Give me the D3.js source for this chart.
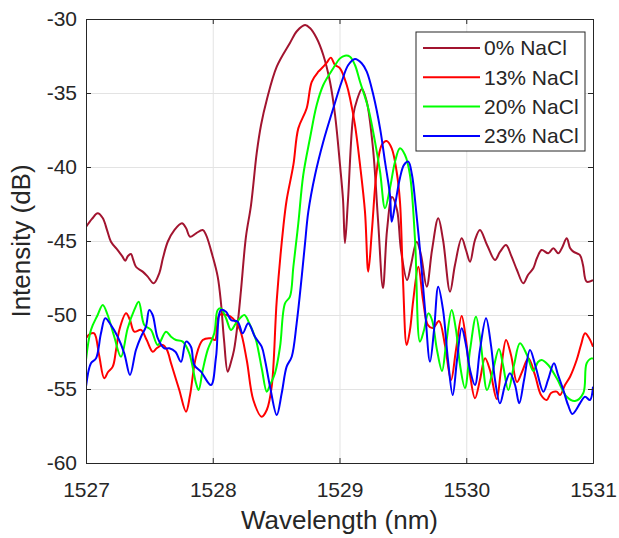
<!DOCTYPE html>
<html lang="en">
<head>
<meta charset="UTF-8">
<title>Intensity vs Wavelength</title>
<script src="https://d3js.org/d3.v7.min.js"></script>
<style>
html,body{margin:0;padding:0;background:#fff}
svg{display:block;font-family:"Liberation Sans",Arial,Helvetica,sans-serif}
.axis text{fill:#262626;font-size:21px}
.axis path,.axis line{stroke:#262626}
.grid line{stroke:#e3e3e3}
.grid path{display:none}
.label{fill:#262626;font-size:26px}
.legend text{fill:#262626;font-size:21px}
</style>
</head>
<body>
<div id="chart"></div>
<script>
// wavelength (nm) / intensity (dB)
var wl0 = [1527.000,1527.047,1527.092,1527.132,1527.166,1527.197,1527.250,1527.284,1527.310,1527.331,1527.355,1527.371,1527.394,1527.447,1527.487,1527.534,1527.578,1527.607,1527.645,1527.697,1527.757,1527.789,1527.821,1527.868,1527.921,1527.947,1528.000,1528.039,1528.065,1528.089,1528.118,1528.144,1528.168,1528.197,1528.223,1528.262,1528.302,1528.347,1528.381,1528.426,1528.505,1528.609,1528.665,1528.728,1528.767,1528.820,1528.872,1528.925,1528.965,1529.004,1529.028,1529.043,1529.067,1529.109,1529.138,1529.177,1529.215,1529.264,1529.304,1529.343,1529.375,1529.414,1529.454,1529.485,1529.533,1529.564,1529.609,1529.643,1529.688,1529.730,1529.779,1529.817,1529.872,1529.911,1529.964,1529.998,1530.030,1530.069,1530.108,1530.164,1530.227,1530.266,1530.314,1530.353,1530.400,1530.450,1530.487,1530.529,1530.558,1530.595,1530.647,1530.687,1530.726,1530.755,1530.793,1530.819,1530.845,1530.897,1530.921,1530.950,1531.000];
var db0 = [-44.05,-43.51,-43.13,-43.45,-44.26,-45.05,-45.61,-46.01,-46.33,-46.01,-45.88,-46.22,-46.74,-47.07,-47.41,-47.86,-47.18,-46.15,-45.05,-44.26,-43.80,-44.12,-44.71,-44.48,-44.26,-44.59,-46.06,-47.41,-49.19,-51.69,-53.83,-53.18,-52.36,-50.54,-48.31,-44.71,-42.57,-39.05,-37.16,-35.47,-33.22,-31.62,-30.81,-30.41,-30.61,-31.30,-32.43,-34.24,-36.49,-39.86,-42.23,-45.14,-42.23,-36.49,-35.47,-34.73,-35.59,-38.72,-43.58,-48.18,-44.26,-42.03,-42.91,-45.61,-47.64,-46.62,-45.05,-45.95,-48.09,-45.61,-43.47,-44.93,-48.43,-46.62,-44.82,-45.61,-46.40,-44.93,-44.26,-45.27,-46.28,-45.74,-45.27,-45.95,-46.96,-47.86,-47.30,-46.84,-46.15,-45.61,-45.83,-45.49,-45.83,-45.47,-44.82,-45.47,-45.72,-45.95,-46.62,-47.75,-47.64];

var wl13 = [1527.000,1527.032,1527.065,1527.103,1527.144,1527.174,1527.211,1527.237,1527.263,1527.316,1527.347,1527.381,1527.434,1527.479,1527.526,1527.560,1527.605,1527.639,1527.671,1527.736,1527.789,1527.821,1527.868,1527.921,1527.986,1528.018,1528.052,1528.110,1528.157,1528.215,1528.268,1528.320,1528.386,1528.426,1528.465,1528.505,1528.557,1528.583,1528.636,1528.675,1528.741,1528.781,1528.833,1528.872,1528.904,1528.931,1528.965,1529.004,1529.057,1529.083,1529.122,1529.162,1529.201,1529.227,1529.256,1529.293,1529.333,1529.372,1529.412,1529.451,1529.477,1529.501,1529.530,1529.556,1529.582,1529.622,1529.659,1529.698,1529.738,1529.785,1529.832,1529.880,1529.919,1529.964,1529.998,1530.030,1530.069,1530.108,1530.148,1530.187,1530.240,1530.274,1530.314,1530.353,1530.400,1530.440,1530.490,1530.542,1530.590,1530.635,1530.669,1530.714,1530.740,1530.779,1530.819,1530.871,1530.905,1530.937,1530.969,1531.000];
var db13 = [-51.57,-51.28,-51.24,-52.70,-54.28,-53.85,-53.49,-52.36,-51.01,-49.89,-50.34,-51.13,-51.01,-51.69,-52.48,-52.23,-52.03,-52.36,-53.26,-55.07,-56.53,-55.41,-52.82,-51.69,-51.57,-51.69,-50.00,-50.00,-50.22,-51.01,-53.04,-55.74,-56.87,-56.42,-54.84,-48.99,-44.03,-42.23,-39.86,-37.39,-36.03,-34.24,-33.56,-33.22,-32.89,-32.61,-33.11,-33.33,-34.46,-35.36,-37.16,-39.86,-43.02,-47.07,-44.26,-40.32,-38.51,-38.24,-38.74,-40.32,-42.34,-47.64,-52.03,-51.01,-48.99,-46.74,-48.99,-50.68,-50.88,-50.41,-52.03,-54.39,-52.36,-50.07,-51.69,-54.05,-55.63,-54.39,-52.93,-53.72,-55.68,-53.72,-51.69,-52.70,-54.53,-53.85,-52.93,-54.05,-55.41,-55.74,-55.27,-55.18,-55.41,-54.73,-54.17,-53.04,-52.03,-51.24,-51.55,-52.14];

var wl20 = [1527.000,1527.039,1527.092,1527.132,1527.171,1527.223,1527.276,1527.329,1527.381,1527.416,1527.460,1527.513,1527.566,1527.631,1527.671,1527.710,1527.763,1527.815,1527.868,1527.889,1527.921,1527.960,1528.012,1528.039,1528.065,1528.105,1528.144,1528.183,1528.249,1528.288,1528.341,1528.359,1528.389,1528.426,1528.452,1528.491,1528.531,1528.570,1528.609,1528.636,1528.675,1528.714,1528.767,1528.820,1528.872,1528.951,1529.004,1529.043,1529.083,1529.122,1529.162,1529.227,1529.280,1529.320,1529.359,1529.398,1529.438,1529.477,1529.517,1529.556,1529.596,1529.635,1529.667,1529.701,1529.730,1529.769,1529.809,1529.840,1529.885,1529.919,1529.951,1529.990,1530.030,1530.077,1530.116,1530.164,1530.211,1530.258,1530.290,1530.332,1530.377,1530.424,1530.479,1530.529,1530.566,1530.595,1530.647,1530.714,1530.793,1530.858,1530.923,1530.950,1530.990,1531.000];
var db20 = [-53.04,-51.01,-50.00,-49.32,-50.00,-51.47,-52.82,-50.90,-49.66,-49.10,-50.68,-51.01,-52.03,-51.13,-51.47,-51.69,-51.80,-52.59,-54.61,-55.07,-53.72,-52.36,-51.24,-49.66,-49.55,-50.22,-51.01,-50.56,-50.00,-50.56,-51.69,-52.36,-53.72,-55.18,-54.73,-53.94,-52.14,-49.21,-48.76,-46.74,-43.80,-40.54,-38.06,-35.81,-34.46,-33.33,-32.66,-32.48,-32.55,-33.11,-34.24,-36.03,-38.29,-40.32,-42.79,-41.44,-39.64,-38.74,-39.19,-40.54,-44.93,-51.80,-51.01,-49.89,-50.34,-52.36,-53.78,-52.03,-49.66,-51.01,-53.38,-54.93,-52.36,-50.11,-52.03,-55.07,-53.72,-52.30,-53.38,-55.07,-53.38,-51.91,-52.70,-53.78,-53.18,-53.04,-53.38,-54.28,-55.52,-55.81,-55.29,-53.26,-52.93,-52.97];

var wl23 = [1527.000,1527.039,1527.079,1527.118,1527.152,1527.197,1527.250,1527.302,1527.347,1527.394,1527.434,1527.473,1527.499,1527.526,1527.566,1527.618,1527.657,1527.705,1527.750,1527.789,1527.828,1527.854,1527.907,1527.986,1528.026,1528.065,1528.105,1528.144,1528.197,1528.236,1528.280,1528.333,1528.386,1528.412,1528.452,1528.505,1528.544,1528.583,1528.623,1528.662,1528.702,1528.728,1528.754,1528.807,1528.872,1528.951,1529.017,1529.069,1529.122,1529.175,1529.215,1529.267,1529.320,1529.359,1529.398,1529.412,1529.438,1529.477,1529.509,1529.543,1529.572,1529.596,1529.635,1529.675,1529.714,1529.746,1529.779,1529.817,1529.856,1529.893,1529.927,1529.964,1529.998,1530.030,1530.069,1530.108,1530.156,1530.195,1530.227,1530.266,1530.306,1530.345,1530.385,1530.418,1530.456,1530.503,1530.550,1530.608,1530.645,1530.692,1530.724,1530.766,1530.803,1530.837,1530.866,1530.897,1530.937,1530.976,1531.000];
var db23 = [-54.84,-53.26,-52.93,-51.24,-50.22,-50.68,-51.47,-52.59,-54.05,-52.36,-51.47,-50.79,-49.66,-50.00,-51.57,-52.25,-52.25,-52.48,-53.16,-51.80,-52.14,-53.38,-53.83,-54.73,-52.82,-49.66,-49.78,-50.34,-50.45,-51.24,-50.56,-51.47,-52.14,-53.04,-54.84,-56.76,-55.29,-53.49,-52.82,-50.56,-47.41,-45.16,-43.02,-40.54,-38.29,-36.03,-34.24,-33.11,-32.70,-32.99,-33.56,-35.14,-37.39,-39.64,-41.89,-43.70,-42.57,-40.74,-39.86,-39.64,-40.54,-42.23,-45.61,-49.66,-53.16,-51.01,-48.09,-49.66,-53.04,-55.41,-53.04,-50.90,-52.03,-53.72,-54.73,-52.36,-50.22,-52.03,-54.39,-55.97,-54.73,-53.94,-54.73,-55.97,-54.39,-52.36,-53.58,-55.18,-54.39,-53.26,-54.05,-55.07,-56.08,-56.69,-56.42,-55.97,-55.52,-55.74,-54.84];

var seriesNames = ['0% NaCl', '13% NaCl', '20% NaCl', '23% NaCl'];
var seriesColors = ['#a2142f', '#ff0000', '#00ff00', '#0000ff'];
var xTicks = [1527, 1528, 1529, 1530, 1531];
var yTicks = [-60, -55, -50, -45, -40, -35, -30];

var series = [[wl0, db0], [wl13, db13], [wl20, db20], [wl23, db23]].map(function(s, i) {
  return {
    name: seriesNames[i],
    color: seriesColors[i],
    pts: s[0].map(function(w, j) { return [w, s[1][j]]; })
  };
});

var W = 619, H = 538;
var margin = { top: 19, right: 26, bottom: 75, left: 86 };
var w = W - margin.left - margin.right;
var h = H - margin.top - margin.bottom;

var svg = d3.select('#chart').append('svg').attr('width', W).attr('height', H);
var g = svg.append('g').attr('transform', 'translate(' + margin.left + ',' + margin.top + ')');

var x = d3.scaleLinear().domain([1527, 1531]).range([0, w]);
var y = d3.scaleLinear().domain([-60, -30]).range([h, 0]);

// plain hyphen for negatives, like the original
var plain = function(d) { return String(d); };

// grid
g.append('g').attr('class', 'grid').attr('transform', 'translate(0,' + h + ')')
  .call(d3.axisBottom(x).tickValues(xTicks).tickSize(-h).tickFormat(''));
g.append('g').attr('class', 'grid')
  .call(d3.axisLeft(y).tickValues(yTicks).tickSize(-w).tickFormat(''));

svg.append('clipPath').attr('id', 'clip')
  .append('rect').attr('width', w).attr('height', h);

var line = d3.line()
  .x(function(d) { return x(d[0]); })
  .y(function(d) { return y(d[1]); })
  .curve(d3.curveCatmullRom.alpha(0.5));

g.append('g').attr('clip-path', 'url(#clip)')
  .selectAll('path').data(series).join('path')
  .attr('fill', 'none')
  .attr('stroke', function(d) { return d.color; })
  .attr('stroke-width', 2)
  .attr('stroke-linejoin', 'round')
  .attr('d', function(d) { return line(d.pts); });

// axes, ticks pointing inwards on all four sides
g.append('g').attr('class', 'axis').attr('transform', 'translate(0,' + h + ')')
  .call(d3.axisBottom(x).tickValues(xTicks).tickSize(-5).tickPadding(19).tickFormat(plain));
g.append('g').attr('class', 'axis')
  .call(d3.axisLeft(y).tickValues(yTicks).tickSize(-5).tickPadding(9).tickFormat(plain));
g.append('g').attr('class', 'axis')
  .call(d3.axisTop(x).tickValues(xTicks).tickSize(-5).tickFormat(''));
g.append('g').attr('class', 'axis').attr('transform', 'translate(' + w + ',0)')
  .call(d3.axisRight(y).tickValues(yTicks).tickSize(-5).tickFormat(''));

// labels
svg.append('text').attr('class', 'label')
  .attr('x', margin.left + w / 2).attr('y', 529)
  .attr('text-anchor', 'middle').text('Wavelength (nm)');
svg.append('text').attr('class', 'label')
  .attr('transform', 'translate(30,' + (margin.top + h / 2) + ') rotate(-90)')
  .attr('text-anchor', 'middle').text('Intensity (dB)');

// legend
var lg = svg.append('g').attr('class', 'legend').attr('transform', 'translate(416,32)');
lg.append('rect').attr('width', 169).attr('height', 119)
  .attr('fill', '#fff').attr('stroke', '#262626').attr('stroke-width', 1);
var item = lg.selectAll('g.item').data(series).join('g').attr('class', 'item')
  .attr('transform', function(d, i) { return 'translate(0,' + (16 + i * 29.3) + ')'; });
item.append('line').attr('x1', 7).attr('x2', 64)
  .attr('stroke', function(d) { return d.color; }).attr('stroke-width', 2);
item.append('text').attr('x', 68).attr('dy', '0.35em').text(function(d) { return d.name; });
</script>
</body>
</html>
